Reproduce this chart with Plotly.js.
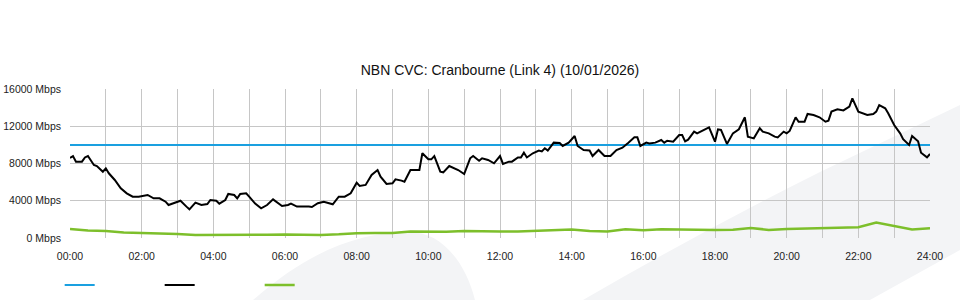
<!DOCTYPE html>
<html>
<head>
<meta charset="utf-8">
<script src="https://cdn.plot.ly/plotly-3.0.1.min.js"></script>
<style>
html,body{margin:0;padding:0;background:#fff;}
#chart{width:960px;height:300px;}
</style>
</head>
<body>
<div id="chart"></div>
<script>
// ---- data ----
var chartTitle = "NBN CVC: Cranbourne (Link 4) (10/01/2026)";
var hourTicks = ["00:00","01:00","02:00","03:00","04:00","05:00","06:00","07:00","08:00","09:00","10:00","11:00","12:00","13:00","14:00","15:00","16:00","17:00","18:00","19:00","20:00","21:00","22:00","23:00","24:00"];
var yTicks = [0, 4000, 8000, 12000, 16000];
var yTickLabels = ["0 Mbps", "4000 Mbps", "8000 Mbps", "12000 Mbps", "16000 Mbps"];

var capacityTimes = ["00:00", "24:00"];
var capacityMbps = [10000, 10000];

var usageTimes = ["00:00","00:05","00:10","00:20","00:25","00:30","00:40","00:45","00:55","01:00","01:05","01:15","01:25","01:35","01:45","01:55","02:10","02:20","02:30","02:40","02:45","02:55","03:05","03:15","03:20","03:30","03:40","03:50","03:55","04:05","04:10","04:20","04:25","04:35","04:40","04:45","04:55","05:00","05:10","05:20","05:30","05:40","05:45","05:55","06:05","06:10","06:20","06:30","06:40","06:45","06:55","07:05","07:20","07:30","07:40","07:50","08:00","08:05","08:15","08:25","08:35","08:40","08:50","09:00","09:05","09:15","09:20","09:30","09:45","09:50","10:00","10:05","10:10","10:20","10:25","10:35","10:45","10:50","11:00","11:05","11:10","11:15","11:25","11:30","11:40","11:50","12:00","12:05","12:15","12:20","12:30","12:35","12:40","12:45","12:55","13:05","13:10","13:15","13:20","13:30","13:40","13:45","13:55","14:05","14:10","14:20","14:30","14:35","14:45","14:55","15:05","15:15","15:25","15:35","15:45","15:50","15:55","16:05","16:10","16:20","16:30","16:35","16:40","16:50","17:00","17:05","17:10","17:15","17:25","17:30","17:40","17:45","17:50","18:00","18:05","18:10","18:20","18:30","18:40","18:50","18:55","19:05","19:15","19:20","19:30","19:40","19:45","19:55","20:00","20:05","20:15","20:20","20:30","20:35","20:45","20:55","21:05","21:10","21:15","21:25","21:35","21:45","21:50","22:00","22:05","22:15","22:25","22:30","22:35","22:45","22:50","23:00","23:10","23:15","23:25","23:30","23:40","23:45","23:55","24:00"];
var usageMbps = [8600,8800,8200,8200,8650,8800,7840,7730,7120,7480,6950,6230,5340,4800,4440,4440,4620,4260,4260,3900,3540,3800,4000,3370,3080,3800,3540,3650,4080,4000,3690,4080,4730,4620,4260,4730,4800,4440,3690,3190,3540,4150,3900,3440,3540,3690,3370,3400,3370,3330,3730,3900,3620,4440,4440,4800,5940,5590,5700,6770,7300,6590,5800,5870,6300,6160,6050,7300,7300,9100,8450,8450,8800,7120,7050,7730,7500,7300,6870,7730,8560,8800,8300,8560,8380,8020,8800,7950,8200,8200,8650,8650,9160,8650,9100,9380,9300,9630,9380,10240,10200,9880,10240,10950,9880,9450,9400,8800,9450,8800,8800,9450,9700,10240,10810,10810,9880,10240,10150,10240,10520,10240,10450,10350,11060,11060,10380,10560,11420,11240,11600,11780,11880,10340,11670,11600,10100,11240,11670,12960,10880,10700,11780,11420,11240,10880,10800,11420,11240,11500,12960,12490,12490,13320,13200,12960,12490,12600,13570,13820,13700,14100,15000,13570,13450,13210,13320,13570,14280,13930,13400,12130,11240,10620,9990,10950,10380,9160,8660,9020];

var upTimes = ["00:00","00:30","01:00","01:30","02:00","02:30","03:00","03:30","04:00","04:30","05:00","05:30","06:00","06:30","07:00","07:30","08:00","08:30","09:00","09:30","10:00","10:30","11:00","11:30","12:00","12:30","13:00","13:30","14:00","14:30","15:00","15:30","16:00","16:30","17:00","17:30","18:00","18:30","19:00","19:30","20:00","20:30","21:00","21:30","22:00","22:30","23:00","23:30","24:00"];
var upMbps = [960,800,750,600,550,520,420,330,320,320,320,360,380,330,330,400,520,540,540,700,700,660,760,700,690,700,790,870,900,760,700,940,820,950,950,880,860,880,1080,870,960,1000,1040,1060,1150,1650,1250,920,1060];

// ---- helpers ----
function toHours(t){ var p = t.split(":"); return parseInt(p[0],10) + parseInt(p[1],10)/60; }
var tickVals = hourTicks.map(toHours);
var tickText = hourTicks.map(function(t,i){ return i % 2 === 0 ? t : ""; });

var FONT = "Liberation Sans, Arial, sans-serif";

var traces = [
  {x: capacityTimes.map(toHours), y: capacityMbps, type: "scatter", mode: "lines", name: " ",
   line: {color: "#1aa0e0", width: 2}, hoverinfo: "skip"},
  {x: usageTimes.map(toHours), y: usageMbps, type: "scatter", mode: "lines", name: " ",
   line: {color: "#000000", width: 2}},
  {x: upTimes.map(toHours), y: upMbps, type: "scatter", mode: "lines", name: " ",
   line: {color: "#7dbf2b", width: 2.5}}
];

// faint background watermark (decorative), paper coordinates
var watermark = [
  {type: "path", xref: "paper", yref: "paper", layer: "below", line: {width: 0}, fillcolor: "#f3f4f6",
   path: "M 0.2128,-0.4161 C 0.2791,-0.0805 0.3372,0.0403 0.3953,0.0403 C 0.4302,0.0403 0.4593,-0.1477 0.4709,-0.4161 Z"},
  {type: "path", xref: "paper", yref: "paper", layer: "below", line: {width: 0}, fillcolor: "#f3f4f6",
   path: "M 0.5965,-0.4161 Q 0.7326,0.0403 0.8721,0.4430 L 1.0349,0.8926 L 1.0349,-0.0805 L 0.9302,-0.4161 Z"}
];

var layout = {
  width: 960, height: 300,
  margin: {l: 70, r: 30, t: 89, b: 62, pad: 0, autoexpand: false},
  paper_bgcolor: "#ffffff",
  plot_bgcolor: "rgba(0,0,0,0)",
  font: {family: FONT, size: 10.5, color: "#222"},
  title: {text: chartTitle, font: {family: FONT, size: 14, color: "#111"}, x: 0.5, xref: "paper", y: 0.767, yref: "container", yanchor: "middle"},
  showlegend: true,
  legend: {orientation: "h", x: -0.012, xanchor: "left", y: 0.05, yanchor: "middle", yref: "container",
           entrywidth: 55, entrywidthmode: "pixels", font: {size: 10}, bgcolor: "rgba(0,0,0,0)"},
  shapes: watermark,
  xaxis: {range: [0, 24], tickmode: "array", tickvals: tickVals, ticktext: tickText,
          showgrid: true, gridcolor: "#c6c6c6", gridwidth: 1, zeroline: false, showline: false,
          ticks: "", ticklabelstandoff: 10, fixedrange: true, tickfont: {size: 10.5}, automargin: false},
  yaxis: {range: [0, 16000], tickmode: "array", tickvals: yTicks, ticktext: yTickLabels,
          showgrid: true, gridcolor: "#c6c6c6", gridwidth: 1, zeroline: false, showline: false,
          ticks: "", ticklabelstandoff: 8, fixedrange: true, tickfont: {size: 10.5}, automargin: false}
};

Plotly.newPlot("chart", traces, layout, {displayModeBar: false, staticPlot: true});
</script>
</body>
</html>
